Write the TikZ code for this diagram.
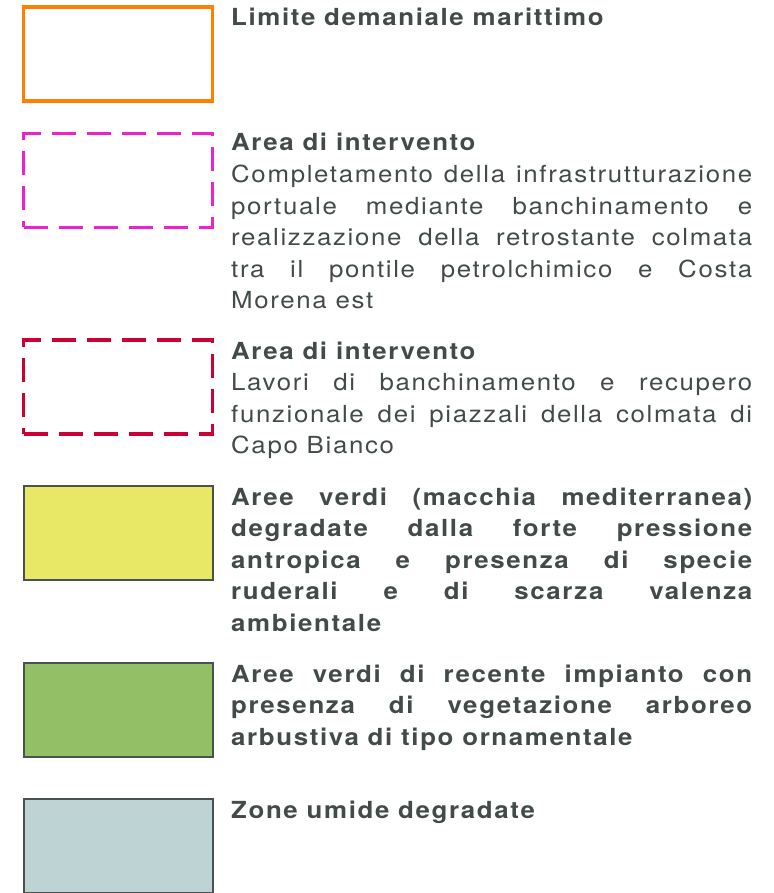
\documentclass[tikz,border=0pt]{standalone}
\usepackage{fontspec}
\setmainfont{TeX Gyre Heros}[LetterSpace=7, FakeStretch=1.1]
\usepackage{tikz}

\definecolor{legtxt}{HTML}{434B48}
\definecolor{legedge}{HTML}{4A524E}
\definecolor{demanio}{HTML}{FF8000}
\definecolor{areaA}{HTML}{EE22CC}
\definecolor{areaB}{HTML}{CC0033}
\definecolor{verdeDeg}{HTML}{E8E866}
\definecolor{verdeNew}{HTML}{93BF66}
\definecolor{umide}{HTML}{BDD3D4}

\newcommand{\legtitle}[1]{{\bfseries #1}}

\tikzset{
    swatch/.style={draw=legedge, line width=2pt, minimum width=189pt, minimum height=94pt, inner sep=0pt},
    dashbox/.style={swatch, fill=none, line width=3.2pt, dash pattern=on 24pt off 11pt},
    legtext/.style={anchor=base west, inner sep=0pt, text width=521pt, align=justify, text=legtxt,
        font=\fontsize{23.5}{31.6}\selectfont},
}

\begin{document}
\hyphenpenalty=10000
\begin{tikzpicture}[x=1pt, y=-1pt]
    \useasboundingbox (0,0) rectangle (773,893);

    \node[swatch, draw=demanio, line width=3.5pt] (box1) at (118,54) {};
    \node[dashbox, draw=areaA] (box2) at (118,180.5) {};
    \node[dashbox, draw=areaB] (box3) at (118,387) {};
    \node[swatch, fill=verdeDeg] (box4) at (118,533) {};
    \node[swatch, fill=verdeNew] (box5) at (118,710) {};
    \node[swatch, fill=umide] (box6) at (118,846) {};

    \node[legtext] (txt1) at (231,26) {\legtitle{Limite demaniale marittimo}};
    \node[legtext] (txt2) at (231,151) {\legtitle{Area di intervento}\par
        Completamento della infrastrutturazione\linebreak
        portuale mediante banchinamento e\linebreak
        realizzazione della retrostante colmata\linebreak
        tra il pontile petrolchimico e Costa\linebreak
        Morena est};
    \node[legtext] (txt3) at (231,359) {\legtitle{Area di intervento}\par
        Lavori di banchinamento e recupero\linebreak
        funzionale dei piazzali della colmata di\linebreak
        Capo Bianco};
    \node[legtext] (txt4) at (231,505) {\legtitle{Aree verdi (macchia mediterranea)\linebreak
        degradate dalla forte pressione\linebreak
        antropica e presenza di specie\linebreak
        ruderali e di scarza valenza\linebreak
        ambientale}};
    \node[legtext] (txt5) at (231,682) {\legtitle{Aree verdi di recente impianto con\linebreak
        presenza di vegetazione arboreo\linebreak
        arbustiva di tipo ornamentale}};
    \node[legtext] (txt6) at (231,818) {\legtitle{Zone umide degradate}};
\end{tikzpicture}
\end{document}
